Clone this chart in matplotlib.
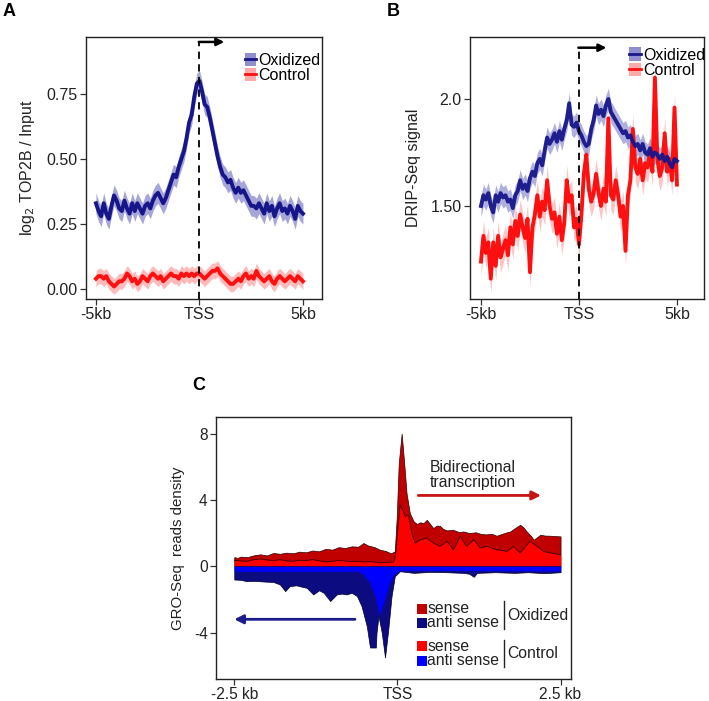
import numpy as np
import matplotlib
matplotlib.use("Agg")
import matplotlib.pyplot as plt
from matplotlib.patches import Patch
from matplotlib.lines import Line2D

plt.rcParams['font.family'] = ['Liberation Sans', 'DejaVu Sans']

# Panel A: TOP2B ChIP profile, bins of 0.125 kb from -5 kb to +5 kb
a_pos = np.linspace(-5, 5, 81)
a_oxidized = [0.33, 0.30, 0.28, 0.33, 0.29, 0.27, 0.32, 0.36, 0.34, 0.31,
              0.30, 0.34, 0.31, 0.29, 0.33, 0.30, 0.33, 0.31, 0.29, 0.32,
              0.33, 0.31, 0.34, 0.36, 0.37, 0.35, 0.33, 0.35, 0.38, 0.41,
              0.44, 0.43, 0.47, 0.50, 0.53, 0.58, 0.64, 0.67, 0.74, 0.79,
              0.80, 0.76, 0.71, 0.70, 0.66, 0.61, 0.56, 0.51, 0.47, 0.44,
              0.43, 0.41, 0.42, 0.39, 0.37, 0.39, 0.37, 0.38, 0.36, 0.34,
              0.32, 0.32, 0.31, 0.33, 0.31, 0.29, 0.33, 0.30, 0.32, 0.28,
              0.31, 0.33, 0.30, 0.31, 0.29, 0.32, 0.30, 0.27, 0.32, 0.30,
              0.29]
a_control = [0.04, 0.05, 0.05, 0.04, 0.05, 0.03, 0.02, 0.01, 0.02, 0.03,
             0.03, 0.04, 0.06, 0.05, 0.03, 0.04, 0.02, 0.03, 0.05, 0.04,
             0.03, 0.05, 0.06, 0.05, 0.04, 0.05, 0.03, 0.04, 0.05, 0.06,
             0.05, 0.05, 0.04, 0.06, 0.05, 0.06, 0.05, 0.06, 0.05, 0.06,
             0.06, 0.05, 0.04, 0.05, 0.06, 0.07, 0.07, 0.08, 0.06, 0.05,
             0.04, 0.03, 0.02, 0.02, 0.03, 0.04, 0.03, 0.05, 0.06, 0.04,
             0.05, 0.04, 0.07, 0.05, 0.04, 0.03, 0.04, 0.05, 0.03, 0.02,
             0.04, 0.05, 0.04, 0.03, 0.04, 0.05, 0.04, 0.03, 0.05, 0.04,
             0.03]
a_ox_err = 0.04
a_ctl_err = 0.03

# Panel B: DRIP-Seq profile, same bins
b_pos = np.linspace(-5, 5, 81)
b_oxidized = [1.50, 1.55, 1.53, 1.56, 1.50, 1.47, 1.55, 1.52, 1.56, 1.54,
              1.55, 1.52, 1.53, 1.49, 1.55, 1.57, 1.62, 1.58, 1.60, 1.57,
              1.63, 1.66, 1.64, 1.70, 1.72, 1.69, 1.76, 1.82, 1.79, 1.81,
              1.84, 1.80, 1.85, 1.81, 1.86, 1.90, 1.98, 1.88, 1.87, 1.89,
              1.85, 1.83, 1.80, 1.78, 1.79, 1.86, 1.90, 1.97, 1.93, 1.95,
              1.92, 1.97, 2.00, 1.94, 1.92, 1.90, 1.88, 1.86, 1.84, 1.85,
              1.82, 1.83, 1.80, 1.78, 1.79, 1.76, 1.79, 1.75, 1.74, 1.77,
              1.73, 1.75, 1.74, 1.72, 1.74, 1.71, 1.73, 1.70, 1.68, 1.72,
              1.71]
b_control = [1.24, 1.36, 1.28, 1.33, 1.16, 1.33, 1.22, 1.36, 1.26, 1.30,
             1.34, 1.27, 1.40, 1.32, 1.43, 1.36, 1.46, 1.40, 1.35, 1.44,
             1.19, 1.40, 1.46, 1.55, 1.45, 1.52, 1.48, 1.62, 1.50, 1.44,
             1.47, 1.37, 1.45, 1.34, 1.42, 1.62, 1.52, 1.55, 1.40, 1.44,
             1.32, 1.46, 1.65, 1.74, 1.58, 1.52, 1.56, 1.65, 1.56, 1.50,
             1.58, 1.52, 1.91, 1.55, 1.53, 1.62, 1.55, 1.45, 1.50, 1.29,
             1.55, 1.62, 1.86, 1.68, 1.65, 1.72, 1.62, 1.70, 1.68, 1.75,
             1.66, 2.10, 1.72, 1.64, 1.68, 1.84, 1.66, 1.72, 1.62, 1.96,
             1.60]
b_ox_err = 0.05
b_ctl_err = 0.07

# Panel C: GRO-Seq read density (kb from TSS)
c_ox_sense_x = [-2.50, -2.45, -2.40, -2.30, -2.20, -2.10, -2.00, -1.90, -1.80, -1.70,
                -1.60, -1.50, -1.40, -1.30, -1.20, -1.10, -1.00, -0.90, -0.80, -0.70,
                -0.60, -0.52, -0.45, -0.35, -0.27, -0.18, -0.10, -0.04, -0.01, 0.02,
                0.065, 0.10, 0.14, 0.19, 0.25, 0.30, 0.35, 0.40, 0.45, 0.50,
                0.55, 0.60, 0.65, 0.70, 0.76, 0.85, 0.95, 1.01, 1.10, 1.20,
                1.27, 1.35, 1.45, 1.52, 1.60, 1.68, 1.73, 1.80, 1.88, 1.93,
                1.98, 2.04, 2.09, 2.14, 2.19, 2.26, 2.34, 2.42, 2.50]
c_ox_sense = [0.55, 0.50, 0.58, 0.55, 0.66, 0.72, 0.65, 0.80, 0.75, 0.82,
              0.78, 0.88, 0.84, 0.95, 0.90, 1.05, 1.00, 1.15, 1.10, 1.20,
              1.18, 1.40, 1.25, 1.15, 1.00, 0.92, 0.78, 0.90, 3.00, 6.20,
              8.00, 6.40, 4.40, 3.20, 2.70, 2.55, 2.65, 2.60, 2.80, 2.55,
              2.30, 2.45, 2.44, 2.25, 2.16, 2.20, 2.05, 2.10, 2.00, 2.05,
              1.96, 1.92, 1.95, 1.84, 1.95, 2.05, 2.10, 2.30, 2.50, 2.35,
              2.10, 1.85, 1.60, 1.75, 1.90, 1.85, 1.84, 1.82, 1.80]
c_ctl_sense_x = [-2.50, -2.40, -2.30, -2.20, -2.10, -2.00, -1.90, -1.80, -1.70, -1.60,
                 -1.50, -1.40, -1.30, -1.20, -1.10, -1.00, -0.90, -0.80, -0.70, -0.60,
                 -0.52, -0.40, -0.27, -0.15, -0.06, -0.03, 0.00, 0.04, 0.08, 0.12,
                 0.17, 0.22, 0.27, 0.35, 0.45, 0.55, 0.65, 0.76, 0.86, 0.96,
                 1.06, 1.17, 1.27, 1.37, 1.52, 1.68, 1.78, 1.88, 2.03, 2.14,
                 2.24, 2.34, 2.50]
c_ctl_sense = [0.36, 0.32, 0.30, 0.40, 0.44, 0.38, 0.34, 0.40, 0.32, 0.30,
               0.36, 0.34, 0.40, 0.33, 0.26, 0.30, 0.35, 0.32, 0.28, 0.30,
               0.26, 0.28, 0.20, 0.24, 0.26, 0.60, 2.00, 3.70, 3.40, 3.00,
               3.10, 2.00, 1.40, 1.60, 1.70, 1.40, 1.20, 1.50, 1.00, 1.80,
               1.20, 1.60, 1.10, 1.20, 1.00, 0.90, 1.20, 0.80, 1.50, 1.20,
               0.90, 0.80, 0.70]
c_ox_anti_x = [-2.50, -2.40, -2.31, -2.20, -2.05, -1.90, -1.80, -1.72, -1.65, -1.55,
               -1.45, -1.39, -1.29, -1.20, -1.13, -1.03, -0.93, -0.85, -0.78, -0.70,
               -0.62, -0.55, -0.47, -0.42, -0.33, -0.32, -0.29, -0.24, -0.19, -0.14,
               -0.09, -0.04, 0.04, 0.25, 0.50, 0.75, 1.00, 1.10, 1.17, 1.22,
               1.50, 1.80, 2.00, 2.25, 2.50]
c_ox_anti = [-0.80, -0.82, -0.90, -0.88, -0.92, -0.95, -1.10, -1.50, -1.20, -1.15,
             -1.25, -1.30, -1.70, -1.45, -1.60, -2.10, -1.70, -1.65, -1.70, -1.60,
             -1.80, -2.40, -3.60, -4.90, -4.90, -4.00, -3.00, -4.00, -5.50, -3.80,
             -1.80, -0.60, -0.30, -0.40, -0.34, -0.36, -0.40, -0.45, -0.64, -0.40,
             -0.36, -0.40, -0.36, -0.42, -0.36]
c_ctl_anti_x = [-2.50, -1.50, -0.60, -0.52, -0.42, -0.34, -0.28, -0.21, -0.14, -0.06,
                0.04, 2.50]
c_ctl_anti = [-0.30, -0.30, -0.30, -0.50, -1.00, -1.80, -3.00, -2.20, -1.20, -0.50,
              -0.25, -0.28]

c_legend_rows = ["sense", "anti sense", "sense", "anti sense"]
c_groups = ["Oxidized", "Control"]

navy = "#16168a"
navy_band = "#8f8fd0"
red = "#ff1010"
red_band = "#ffaaaa"
dark_red = "#c00000"
bright_red = "#ff0000"
dark_blue = "#0c0c80"
bright_blue = "#0000ff"
grey_txt = "#222222"

W, H = 709, 701
fig = plt.figure(figsize=(W / 100, H / 100), dpi=100)


def px_axes(left, top, right, bottom):
    return fig.add_axes([left / W, 1 - bottom / H, (right - left) / W, (bottom - top) / H])


def style_box(ax, size):
    for s in ax.spines.values():
        s.set_linewidth(1.0)
        s.set_color("#222222")
    ax.tick_params(direction="out", length=4, width=0.9, colors="#333333",
                   labelcolor=grey_txt, labelsize=size, pad=2)


def tss_marker(ax, y_top, arrow_len, y_bottom):
    ax.plot([0, 0], [y_bottom, y_top], color="black", lw=1.3, ls=(0, (4, 3)), clip_on=False, zorder=5)
    ax.annotate("", xy=(arrow_len, y_top), xytext=(-0.03, y_top),
                arrowprops=dict(arrowstyle="-|>", color="black", lw=1.8, mutation_scale=11,
                                shrinkA=0, shrinkB=0), zorder=6)


def band_legend(ax, anchor):
    h_ox = (Patch(facecolor=navy_band, edgecolor="none"), Line2D([], [], color=navy, lw=2))
    h_ct = (Patch(facecolor=red_band, edgecolor="none"), Line2D([], [], color=red, lw=2))
    ax.legend([h_ox, h_ct], ["Oxidized", "Control"], loc="upper right", bbox_to_anchor=anchor,
              frameon=False, fontsize=11.5, handlelength=0.7, handleheight=0.9,
              handletextpad=0.15, labelspacing=0.0, borderpad=0, borderaxespad=0)


# ---- A
axA = px_axes(86, 37, 322, 299)
axA.fill_between(a_pos, np.array(a_oxidized) - a_ox_err, np.array(a_oxidized) + a_ox_err,
                 color=navy_band, lw=0, alpha=0.8)
axA.plot(a_pos, a_oxidized, color=navy, lw=2.8)
axA.fill_between(a_pos, np.array(a_control) - a_ctl_err, np.array(a_control) + a_ctl_err,
                 color=red_band, lw=0, alpha=0.8)
axA.plot(a_pos, a_control, color=red, lw=2.8)
axA.set_xlim(-5.48, 5.92)
axA.set_ylim(-0.038, 0.969)
axA.set_xticks([-5, 0, 5], ["-5kb", "TSS", "5kb"])
axA.set_yticks([0, 0.25, 0.5, 0.75], ["0.00", "0.25", "0.50", "0.75"])
axA.set_ylabel("log$_2$ TOP2B / Input", fontsize=11.5, color=grey_txt, labelpad=7)
style_box(axA, 11.5)
tss_marker(axA, 0.95, 1.2, -0.038)
band_legend(axA, (0.995, 0.94))

# ---- B
axB = px_axes(470, 37, 704, 299)
axB.fill_between(b_pos, np.array(b_control) - b_ctl_err, np.array(b_control) + b_ctl_err,
                 color=red_band, lw=0, alpha=0.7)
axB.plot(b_pos, b_control, color=red, lw=2.8)
axB.fill_between(b_pos, np.array(b_oxidized) - b_ox_err, np.array(b_oxidized) + b_ox_err,
                 color=navy_band, lw=0, alpha=0.7)
axB.plot(b_pos, b_oxidized, color=navy, lw=2.8, alpha=0.95)
axB.set_xlim(-5.56, 6.38)
axB.set_ylim(1.065, 2.29)
axB.set_xticks([-5, 0, 5], ["-5kb", "TSS", "5kb"])
axB.set_yticks([1.5, 2.0], ["1.50", "2.0"])
axB.set_ylabel("DRIP-Seq signal", fontsize=11.5, color=grey_txt, labelpad=7)
style_box(axB, 11.5)
tss_marker(axB, 2.24, 1.4, 1.065)
band_legend(axB, (1.005, 0.96))

# ---- C
axC = px_axes(216, 417, 571, 679)
axC.fill_between(c_ox_sense_x, 0, c_ox_sense, color=dark_red, edgecolor="#300000", lw=0.5)
axC.fill_between(c_ctl_sense_x, 0, c_ctl_sense, color=bright_red, lw=0)
axC.plot(c_ctl_sense_x, c_ctl_sense, color="#400000", lw=0.6)
axC.fill_between(c_ox_anti_x, 0, c_ox_anti, color=dark_blue, edgecolor="#000030", lw=0.5)
axC.fill_between(c_ctl_anti_x, 0, c_ctl_anti, color=bright_blue, lw=0)
axC.set_xlim(-2.78, 2.66)
axC.set_ylim(-6.8, 9.0)
axC.set_xticks([-2.5, 0, 2.5], ["-2.5 kb", "TSS", "2.5 kb"])
axC.set_yticks([8, 4, 0, -4], ["8", "4", "0", "-4"])
axC.set_ylabel("GRO-Seq  reads density", fontsize=10.8, color=grey_txt, labelpad=6)
style_box(axC, 11.2)

# direction arrows
axC.annotate("", xy=(2.2, 4.27), xytext=(0.32, 4.27),
             arrowprops=dict(arrowstyle="-|>", color="#c81414", lw=2.0, mutation_scale=13,
                             shrinkA=0, shrinkB=0))
axC.text(0.49, 5.5, "Bidirectional\ntranscription", fontsize=11.3, color=grey_txt,
         va="center", ha="left", linespacing=1.0)
axC.annotate("", xy=(-2.5, -3.2), xytext=(-0.65, -3.2),
             arrowprops=dict(arrowstyle="-|>", color="#1c1c8c", lw=2.0, mutation_scale=13,
                             shrinkA=0, shrinkB=0))

# custom legend
row_y = [-2.56, -3.42, -4.84, -5.7]
row_col = [dark_red, dark_blue, bright_red, bright_blue]
for yy, cc, lab in zip(row_y, row_col, c_legend_rows):
    axC.scatter([0.375], [yy], marker="s", s=42, color=cc, lw=0)
    axC.text(0.46, yy, lab, fontsize=11.3, color=grey_txt, va="center", ha="left")
for (y0, y1), name, ty in zip([(-2.1, -3.76), (-4.44, -6.1)], c_groups, [-3.0, -5.24]):
    axC.plot([1.63, 1.63], [y0, y1], color="#222222", lw=1.0)
    axC.text(1.69, ty, name, fontsize=11.3, color=grey_txt, va="center", ha="left")

# panel letters
fig.text(3 / W, 1 - 12 / H, "A", fontsize=13, fontweight="bold", va="center", ha="left")
fig.text(387 / W, 1 - 12 / H, "B", fontsize=13, fontweight="bold", va="center", ha="left")
fig.text(192 / W, 1 - 386 / H, "C", fontsize=13, fontweight="bold", va="center", ha="left")

fig.savefig("out.png", dpi=100, facecolor="white")
